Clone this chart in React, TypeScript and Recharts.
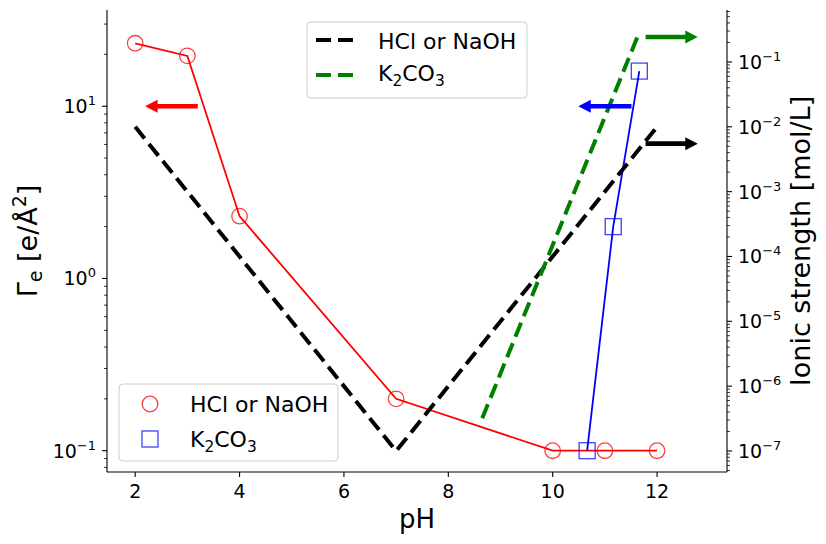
import React from 'react';
import { ComposedChart, Line, XAxis, YAxis, ReferenceLine, Customized } from 'recharts';

// ---- data ----
const hclPH = [2, 3, 4, 7, 10, 11, 12];
const hclGamma = [23.2, 19.6, 2.3, 0.2, 0.1, 0.1, 0.1];
const k2co3PH = [10.66, 11.16, 11.66];
const k2co3Gamma = [0.1, 2.0, 16.0];
const hclIonicPH = [2, 7, 12];
const hclIonic = [0.01, 1e-7, 0.01];
const k2co3IonicPH = [8.65, 11.63];
const k2co3Ionic = [3.2e-7, 0.25];

const xTicks = [2, 4, 6, 8, 10, 12];
const leftMajorTicks = [0.1, 1, 10];
const leftMinorTicks = [0.08, 0.09, 0.2, 0.3, 0.4, 0.5, 0.6, 0.7, 0.8, 0.9, 2, 3, 4, 5, 6, 7, 8, 9, 20, 30];
const rightMajorTicks = [1e-7, 1e-6, 1e-5, 1e-4, 1e-3, 1e-2, 1e-1];
const rightMinorTicks = [
  5e-8, 6e-8, 7e-8, 8e-8, 9e-8,
  2e-7, 3e-7, 4e-7, 5e-7, 6e-7, 7e-7, 8e-7, 9e-7,
  2e-6, 3e-6, 4e-6, 5e-6, 6e-6, 7e-6, 8e-6, 9e-6,
  2e-5, 3e-5, 4e-5, 5e-5, 6e-5, 7e-5, 8e-5, 9e-5,
  2e-4, 3e-4, 4e-4, 5e-4, 6e-4, 7e-4, 8e-4, 9e-4,
  2e-3, 3e-3, 4e-3, 5e-3, 6e-3, 7e-3, 8e-3, 9e-3,
  2e-2, 3e-2, 4e-2, 5e-2, 6e-2, 7e-2, 8e-2, 9e-2,
  0.2, 0.3, 0.4, 0.5, 0.6,
];

const arrowFrom = [3.2, 11.51, 11.78, 11.78];
const arrowTo = [2.19, 10.49, 12.78, 12.78];
const arrowY = [10, 10, 0.243, 0.0055];
const arrowAxis = ['left', 'left', 'right', 'right'];
const arrowColor = ['#ff0000', '#0000ff', '#008000', '#000000'];

const xDomain = [1.46, 13.34];
const leftDomain = [0.0752, 36.2];
const rightDomain = [4.745e-8, 0.633];

const zip = (xs: number[], ys: number[]) => xs.map((x, i) => ({ x, y: ys[i] }));
const hclData = zip(hclPH, hclGamma);
const k2co3Data = zip(k2co3PH, k2co3Gamma);
const hclIonicData = zip(hclIonicPH, hclIonic);
const k2co3IonicData = zip(k2co3IonicPH, k2co3Ionic);

const FONT = 'DejaVu Sans, Liberation Sans, sans-serif';

const isMajor = (v: number) => {
  const l = Math.log10(v);
  return Math.abs(l - Math.round(l)) < 1e-9;
};
const expStr = (v: number) => {
  const e = Math.round(Math.log10(v));
  return e < 0 ? '\u2212' + Math.abs(e) : String(e);
};

const LeftTick = (props: any) => {
  const { x, y, payload } = props;
  const v = payload.value;
  const major = isMajor(v);
  return (
    <g>
      <line x1={x} x2={x - (major ? 5 : 3)} y1={y} y2={y} stroke="#000" strokeWidth={major ? 1.1 : 0.8} />
      {major && (
        <text x={x - 11} y={y + 7} textAnchor="end" fontFamily={FONT} fontSize={19} fill="#000">
          10<tspan dy={-8} fontSize={13}>{expStr(v)}</tspan>
        </text>
      )}
    </g>
  );
};

const RightTick = (props: any) => {
  const { x, y, payload } = props;
  const v = payload.value;
  const major = isMajor(v);
  return (
    <g>
      <line x1={x} x2={x + (major ? 5 : 3)} y1={y} y2={y} stroke="#000" strokeWidth={major ? 1.1 : 0.8} />
      {major && (
        <text x={x + 11} y={y + 7} textAnchor="start" fontFamily={FONT} fontSize={19} fill="#000">
          10<tspan dy={-8} fontSize={13}>{expStr(v)}</tspan>
        </text>
      )}
    </g>
  );
};

const BottomTick = (props: any) => {
  const { x, y, payload } = props;
  return (
    <g>
      <line x1={x} x2={x} y1={y} y2={y + 5} stroke="#000" strokeWidth={1.1} />
      <text x={x} y={y + 26} textAnchor="middle" fontFamily={FONT} fontSize={19} fill="#000">
        {payload.value}
      </text>
    </g>
  );
};

const CircleDot = (props: any) => {
  const { cx, cy, index } = props;
  if (cx == null || cy == null) return <g key={index} />;
  return <circle key={index} cx={cx} cy={cy} r={7.8} fill="none" stroke="#ff0000" strokeOpacity={0.75} strokeWidth={1.3} />;
};

const SquareDot = (props: any) => {
  const { cx, cy, index } = props;
  if (cx == null || cy == null) return <g key={index} />;
  return <rect key={index} x={cx - 8} y={cy - 8} width={16} height={16} fill="none" stroke="#0000ff" strokeOpacity={0.75} strokeWidth={1.3} />;
};

const makeArrow = (color: string) => (p: any) => {
  const { x1, y1, x2 } = p;
  const y = y1;
  const dir = x2 > x1 ? 1 : -1;
  const hl = 12.5;
  const hw = 6.5;
  const sw = 2.3;
  const hb = x2 - dir * hl;
  const pts = [
    [x1, y - sw], [hb, y - sw], [hb, y - hw], [x2, y], [hb, y + hw], [hb, y + sw], [x1, y + sw],
  ].map((q) => q.join(',')).join(' ');
  return <polygon points={pts} fill={color} stroke="none" />;
};

const K2CO3 = ({ size }: { size: number }) => (
  <>
    K<tspan dy={5} fontSize={size * 0.7}>2</tspan>
    <tspan dy={-5}>CO</tspan>
    <tspan dy={5} fontSize={size * 0.7}>3</tspan>
  </>
);

const Legends = () => (
  <g>
    {/* top legend: ionic strength lines */}
    <rect x={307} y={22} width={220} height={76} rx={4} fill="#ffffff" fillOpacity={0.8} stroke="#cccccc" strokeWidth={1} />
    <line x1={316} x2={353} y1={40} y2={40} stroke="#000" strokeWidth={4} strokeDasharray="15 7" />
    <text x={378} y={48.5} fontFamily={FONT} fontSize={22} fill="#000">HCl or NaOH</text>
    <line x1={316} x2={353} y1={75} y2={75} stroke="#008000" strokeWidth={4} strokeDasharray="15 7" />
    <text x={378} y={80.5} fontFamily={FONT} fontSize={22} fill="#000"><K2CO3 size={22} /></text>

    {/* bottom legend: markers */}
    <rect x={119} y={384} width={219} height={77} rx={4} fill="#ffffff" fillOpacity={0.8} stroke="#cccccc" strokeWidth={1} />
    <circle cx={150} cy={404} r={7.8} fill="none" stroke="#ff0000" strokeOpacity={0.75} strokeWidth={1.3} />
    <text x={190} y={411.5} fontFamily={FONT} fontSize={22} fill="#000">HCl or NaOH</text>
    <rect x={142} y={431} width={16} height={16} fill="none" stroke="#0000ff" strokeOpacity={0.75} strokeWidth={1.3} />
    <text x={190} y={446.7} fontFamily={FONT} fontSize={22} fill="#000"><K2CO3 size={22} /></text>
  </g>
);

const LeftLabel = (props: any) => {
  const vb = props.viewBox || { x: 10, y: 10, width: 97, height: 462 };
  const x = vb.x + 27;
  const y = vb.y + vb.height / 2;
  return (
    <text x={x} y={y} transform={`rotate(-90, ${x}, ${y})`} textAnchor="middle" fontFamily={FONT} fontSize={27} fill="#000">
      Γ<tspan dy={5} fontSize={19}>e</tspan>
      <tspan dy={-5}> [e/Å</tspan>
      <tspan dy={-11} fontSize={19}>2</tspan>
      <tspan dy={11}>]</tspan>
    </text>
  );
};

const RightLabel = (props: any) => {
  const vb = props.viewBox || { x: 727, y: 10, width: 89, height: 462 };
  const x = vb.x + 83;
  const y = vb.y + vb.height / 2;
  return (
    <text x={x} y={y} transform={`rotate(-90, ${x}, ${y})`} textAnchor="middle" fontFamily={FONT} fontSize={27} fill="#000">
      Ionic strength [mol/L]
    </text>
  );
};

const BottomLabel = (props: any) => {
  const vb = props.viewBox || { x: 107, y: 472, width: 620, height: 62 };
  const x = vb.x + vb.width / 2;
  return (
    <text x={x} y={vb.y + 56} textAnchor="middle" fontFamily={FONT} fontSize={26} fill="#000">pH</text>
  );
};

export default function App() {
  return (
    <div style={{ margin: -8, width: 826, height: 544, background: '#fff' }}>
      <ComposedChart width={826} height={544} margin={{ top: 10, right: 10, bottom: 10, left: 10 }}>
        <XAxis
          dataKey="x"
          type="number"
          domain={xDomain}
          allowDataOverflow
          ticks={xTicks}
          interval={0}
          height={62}
          tickSize={0}
          tickMargin={0}
          tickLine={false}
          axisLine={{ stroke: '#000', strokeWidth: 1.1 }}
          tick={<BottomTick />}
          label={<BottomLabel />}
        />
        <XAxis
          xAxisId="top"
          orientation="top"
          type="number"
          domain={xDomain}
          allowDataOverflow
          height={0}
          tick={false}
          tickLine={false}
          axisLine={{ stroke: '#000', strokeWidth: 1.1 }}
        />
        <YAxis
          yAxisId="left"
          orientation="left"
          type="number"
          scale="log"
          domain={leftDomain}
          allowDataOverflow
          ticks={[...leftMinorTicks, ...leftMajorTicks]}
          interval={0}
          width={97}
          tickSize={0}
          tickMargin={0}
          tickLine={false}
          axisLine={{ stroke: '#000', strokeWidth: 1.1 }}
          tick={<LeftTick />}
          label={<LeftLabel />}
        />
        <YAxis
          yAxisId="right"
          orientation="right"
          type="number"
          scale="log"
          domain={rightDomain}
          allowDataOverflow
          ticks={[...rightMinorTicks, ...rightMajorTicks]}
          interval={0}
          width={89}
          tickSize={0}
          tickMargin={0}
          tickLine={false}
          axisLine={{ stroke: '#000', strokeWidth: 1.1 }}
          tick={<RightTick />}
          label={<RightLabel />}
        />

        <Line
          yAxisId="left"
          data={hclData}
          dataKey="y"
          stroke="#ff0000"
          strokeWidth={1.8}
          dot={<CircleDot />}
          activeDot={false}
          isAnimationActive={false}
          legendType="none"
        />
        <Line
          yAxisId="left"
          data={k2co3Data}
          dataKey="y"
          stroke="#0000ff"
          strokeWidth={1.8}
          dot={<SquareDot />}
          activeDot={false}
          isAnimationActive={false}
          legendType="none"
        />
        <Line
          yAxisId="right"
          data={hclIonicData}
          dataKey="y"
          stroke="#000000"
          strokeWidth={4}
          strokeDasharray="15 7"
          dot={false}
          activeDot={false}
          isAnimationActive={false}
          legendType="none"
        />
        <Line
          yAxisId="right"
          data={k2co3IonicData}
          dataKey="y"
          stroke="#008000"
          strokeWidth={4}
          strokeDasharray="15 7"
          dot={false}
          activeDot={false}
          isAnimationActive={false}
          legendType="none"
        />

        {arrowFrom.map((x1, i) => (
          <ReferenceLine
            key={`arrow-${i}`}
            yAxisId={arrowAxis[i]}
            segment={[{ x: x1, y: arrowY[i] }, { x: arrowTo[i], y: arrowY[i] }]}
            ifOverflow="visible"
            shape={makeArrow(arrowColor[i])}
          />
        ))}

        <Customized component={Legends} />
      </ComposedChart>
    </div>
  );
}
